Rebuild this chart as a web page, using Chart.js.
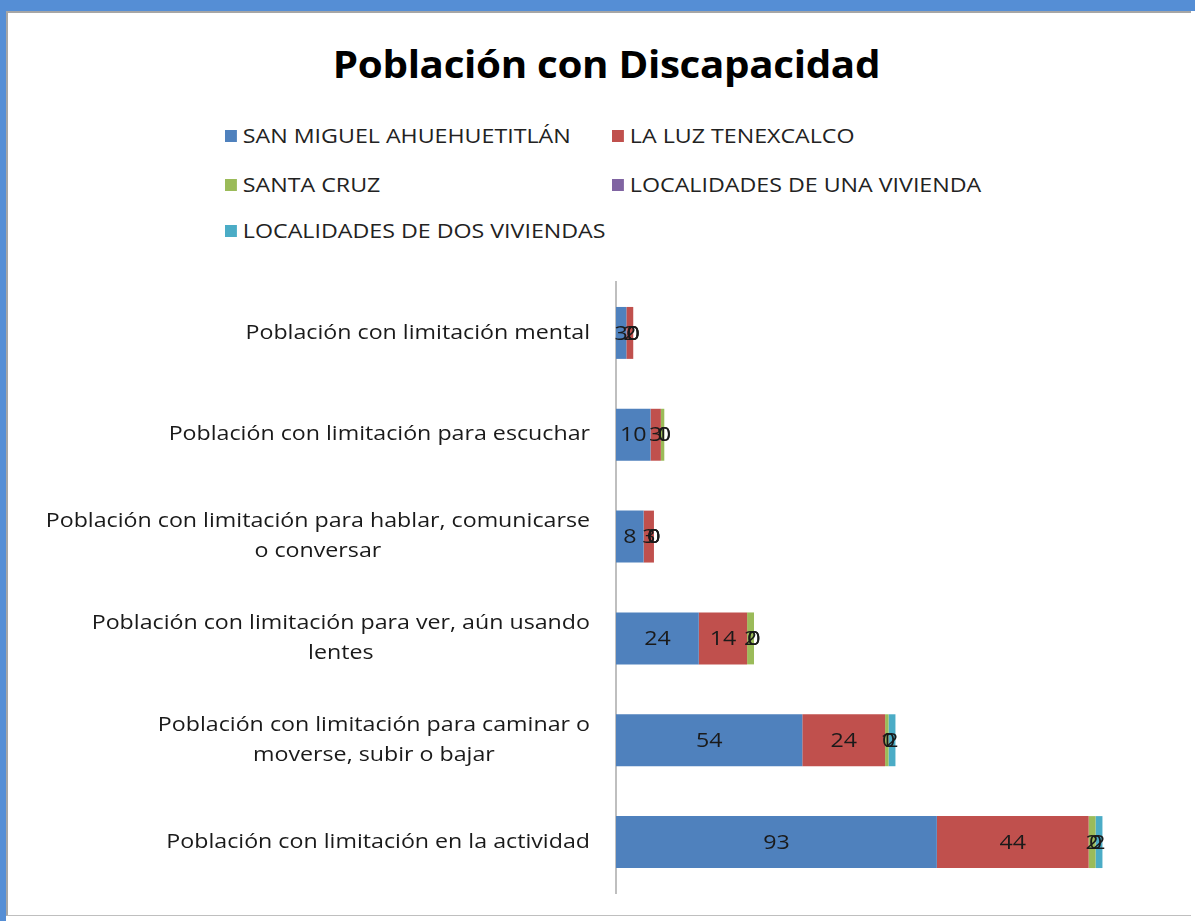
<!DOCTYPE html>
<html>
<head>
<meta charset="utf-8">
<script src="https://cdn.jsdelivr.net/npm/chart.js@4"></script>
<style>
  html, body { margin: 0; padding: 0; background: #fff; }
  #frame { position: absolute; left: 0; top: 0; width: 1195px; height: 921px; overflow: hidden; }
  #topbar { position: absolute; left: 0; top: 0; width: 1195px; height: 11px; background: #558ed5; }
  #leftbar { position: absolute; left: 0; top: 0; width: 6px; height: 921px; background: #558ed5; }
  #inner { position: absolute; left: 6px; top: 11px; right: 4px; bottom: 5px; border-top: 2px solid #a6a6a6; border-left: 2px solid #a6a6a6; border-bottom: 1px solid #bfbfbf; }
  #title { position: absolute; left: 0; width: 1213px; top: 38px; text-align: center; font: bold 37px "Open Sans", sans-serif; color: #000; letter-spacing: -0.3px; transform: scaleX(1.09); transform-origin: 607px 0; }
  .lg { position: absolute; font: 19.5px "Open Sans", sans-serif; color: #222; white-space: nowrap; transform: scaleX(1.19); transform-origin: 0 0; }
  .lg i { display: inline-block; width: 10px; height: 12px; margin-right: 5px; vertical-align: 1px; }
  #wrap { position: absolute; left: 0; top: 0; width: 1195px; height: 921px; }
</style>
</head>
<body>
<div id="frame">
  <div id="topbar"></div>
  <div id="leftbar"></div>
  <div id="inner"></div>
  <div id="title">Población con Discapacidad</div>
  <div id="legend"></div>
  <div id="wrap"><canvas id="chart" width="1195" height="921"></canvas></div>
</div>
<script>
const categories = [
  ['Población con limitación mental'],
  ['Población con limitación para escuchar'],
  ['Población con limitación para hablar, comunicarse', 'o conversar'],
  ['Población con limitación para ver, aún usando', 'lentes'],
  ['Población con limitación para caminar o', 'moverse, subir o bajar'],
  ['Población con limitación en la actividad']
];
const seriesNames = ['SAN MIGUEL AHUEHUETITLÁN', 'LA LUZ TENEXCALCO', 'SANTA CRUZ', 'LOCALIDADES DE UNA VIVIENDA', 'LOCALIDADES DE DOS VIVIENDAS'];
const sanMiguel = [3, 10, 8, 24, 54, 93];
const laLuz = [2, 3, 3, 14, 24, 44];
const santaCruz = [0, 1, 0, 2, 1, 2];
const unaVivienda = [0, 0, 0, 0, 0, 0];
const dosViviendas = [0, 0, 0, 0, 2, 2];
const colors = ['#4f81bd', '#c0504d', '#9bbb59', '#8064a2', '#4bacc6'];

// legend (two columns, like the office chart)
const legendPos = [[225, 136], [612, 136], [225, 185], [612, 185], [225, 231]];
document.getElementById('legend').innerHTML = seriesNames.map((n, i) =>
  `<div class="lg" style="left:${legendPos[i][0]}px;top:${legendPos[i][1] - 14}px"><i style="background:${colors[i]}"></i>${n}</div>`).join('');

const values = [sanMiguel, laLuz, santaCruz, unaVivienda, dosViviendas];
const stretch = 1.16; // the reference text is a bit wide

const valueLabels = {
  id: 'valueLabels',
  afterDatasetsDraw(chart) {
    const ctx = chart.ctx;
    ctx.save();
    ctx.font = '20px "Open Sans", sans-serif';
    ctx.fillStyle = '#1a1a1a';
    ctx.textAlign = 'center';
    ctx.textBaseline = 'middle';
    chart.data.datasets.forEach((ds, di) => {
      chart.getDatasetMeta(di).data.forEach((el, i) => {
        ctx.save();
        ctx.translate((el.x + el.base) / 2, el.y + 1);
        ctx.scale(stretch, 1);
        ctx.fillText(ds.data[i], 0, 0);
        ctx.restore();
      });
    });
    ctx.restore();
  }
};

const catLabels = {
  id: 'catLabels',
  afterDraw(chart) {
    const ctx = chart.ctx;
    const y = chart.scales.y;
    ctx.save();
    ctx.font = '20px "Open Sans", sans-serif';
    ctx.fillStyle = '#1a1a1a';
    ctx.textAlign = 'center';
    ctx.textBaseline = 'middle';
    const right = 590, lh = 30;
    ctx.translate(right, 0);
    ctx.scale(stretch, 1);
    categories.forEach((lines, i) => {
      const w = Math.max(...lines.map(l => ctx.measureText(l).width));
      const cy = y.getPixelForTick(i);
      lines.forEach((l, k) => {
        ctx.fillText(l, -w / 2, cy + (k - (lines.length - 1) / 2) * lh);
      });
    });
    ctx.restore();
  }
};

new Chart(document.getElementById('chart'), {
  type: 'bar',
  data: {
    labels: categories,
    datasets: seriesNames.map((n, i) => ({
      label: n,
      data: values[i],
      backgroundColor: colors[i],
      borderWidth: 0,
      barPercentage: 0.51,
      categoryPercentage: 1
    }))
  },
  options: {
    indexAxis: 'y',
    responsive: false,
    animation: false,
    layout: { padding: { top: 282, bottom: 28, left: 0, right: 27 } },
    plugins: { legend: { display: false }, title: { display: false }, tooltip: { enabled: false } },
    scales: {
      x: { stacked: true, min: 0, max: 160, display: false },
      y: {
        stacked: true,
        grid: { display: false },
        border: { display: true, color: '#bfbfbf', width: 2 },
        ticks: { display: false },
        afterFit(scale) { scale.width = 616; }
      }
    }
  },
  plugins: [valueLabels, catLabels]
});
</script>
</body>
</html>
